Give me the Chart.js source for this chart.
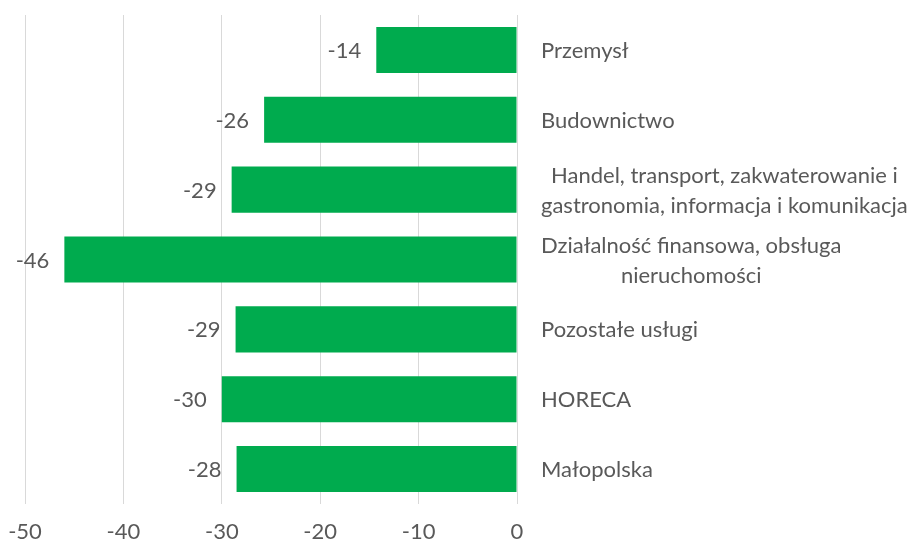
<!DOCTYPE html>
<html>
<head>
<meta charset="utf-8">
<script src="https://cdn.jsdelivr.net/npm/chart.js@4/dist/chart.umd.min.js"></script>
<style>
  html, body { margin: 0; padding: 0; background: #ffffff; }
  #wrap { width: 921px; height: 542px; position: relative; }
</style>
</head>
<body>
<div id="wrap"><canvas id="c" width="921" height="542"></canvas></div>
<script>
const categories = [
  ["Przemysł"],
  ["Budownictwo"],
  ["Handel, transport, zakwaterowanie i", "gastronomia, informacja i komunikacja"],
  ["Działalność finansowa, obsługa", "nieruchomości"],
  ["Pozostałe usługi"],
  ["HORECA"],
  ["Małopolska"]
];
const values = [-14.3, -25.7, -29.0, -46.0, -28.6, -30.0, -28.5];
const valueLabels = ["-14", "-26", "-29", "-46", "-29", "-30", "-28"];
const xTicks = [-50, -40, -30, -20, -10, 0];

const FONT = "Lato, 'Liberation Sans', sans-serif";
const TEXT = "#595959";
const FSIZE = 22;

const labelsPlugin = {
  id: 'customLabels',
  afterDatasetsDraw(chart) {
    const ctx = chart.ctx;
    const meta = chart.getDatasetMeta(0);
    const yScale = chart.scales.y;
    ctx.save();
    ctx.font = FSIZE + "px " + FONT;
    ctx.fillStyle = TEXT;
    // value labels
    ctx.textAlign = 'right';
    ctx.textBaseline = 'middle';
    meta.data.forEach((bar, i) => {
      ctx.fillText(valueLabels[i], bar.x - 15, bar.y + 1);
    });
    // category labels
    const left = 541;
    const lineH = 30;
    categories.forEach((lines, i) => {
      const cy = yScale.getPixelForValue(i);
      const maxW = Math.max(...lines.map(l => ctx.measureText(l).width));
      const cx = left + maxW / 2;
      ctx.textAlign = 'center';
      const start = cy - (lines.length - 1) * lineH / 2;
      lines.forEach((l, j) => ctx.fillText(l, cx, start + j * lineH + 1));
    });
    ctx.restore();
  }
};

new Chart(document.getElementById('c'), {
  type: 'bar',
  data: {
    labels: categories.map(c => c.join(' ')),
    datasets: [{
      data: values,
      backgroundColor: '#00AB4E',
      borderWidth: 0,
      barPercentage: 0.66,
      categoryPercentage: 1.0
    }]
  },
  options: {
    indexAxis: 'y',
    responsive: false,
    animation: false,
    layout: { padding: { left: 25, right: 404, top: 15, bottom: 0 } },
    plugins: { legend: { display: false }, tooltip: { enabled: false } },
    scales: {
      x: {
        min: -50, max: 0,
        afterBuildTicks(scale) { scale.ticks = xTicks.map(v => ({ value: v })); },
        afterFit(scale) { scale.height = 38; scale.paddingLeft = 0; scale.paddingRight = 0; },
        grid: { color: '#d9d9d9', lineWidth: 1, drawTicks: false },
        border: { display: false },
        ticks: {
          padding: 15,
          color: TEXT,
          font: { family: FONT, size: FSIZE }
        }
      },
      y: {
        display: false,
        grid: { display: false }
      }
    }
  },
  plugins: [labelsPlugin]
});
</script>
</body>
</html>
